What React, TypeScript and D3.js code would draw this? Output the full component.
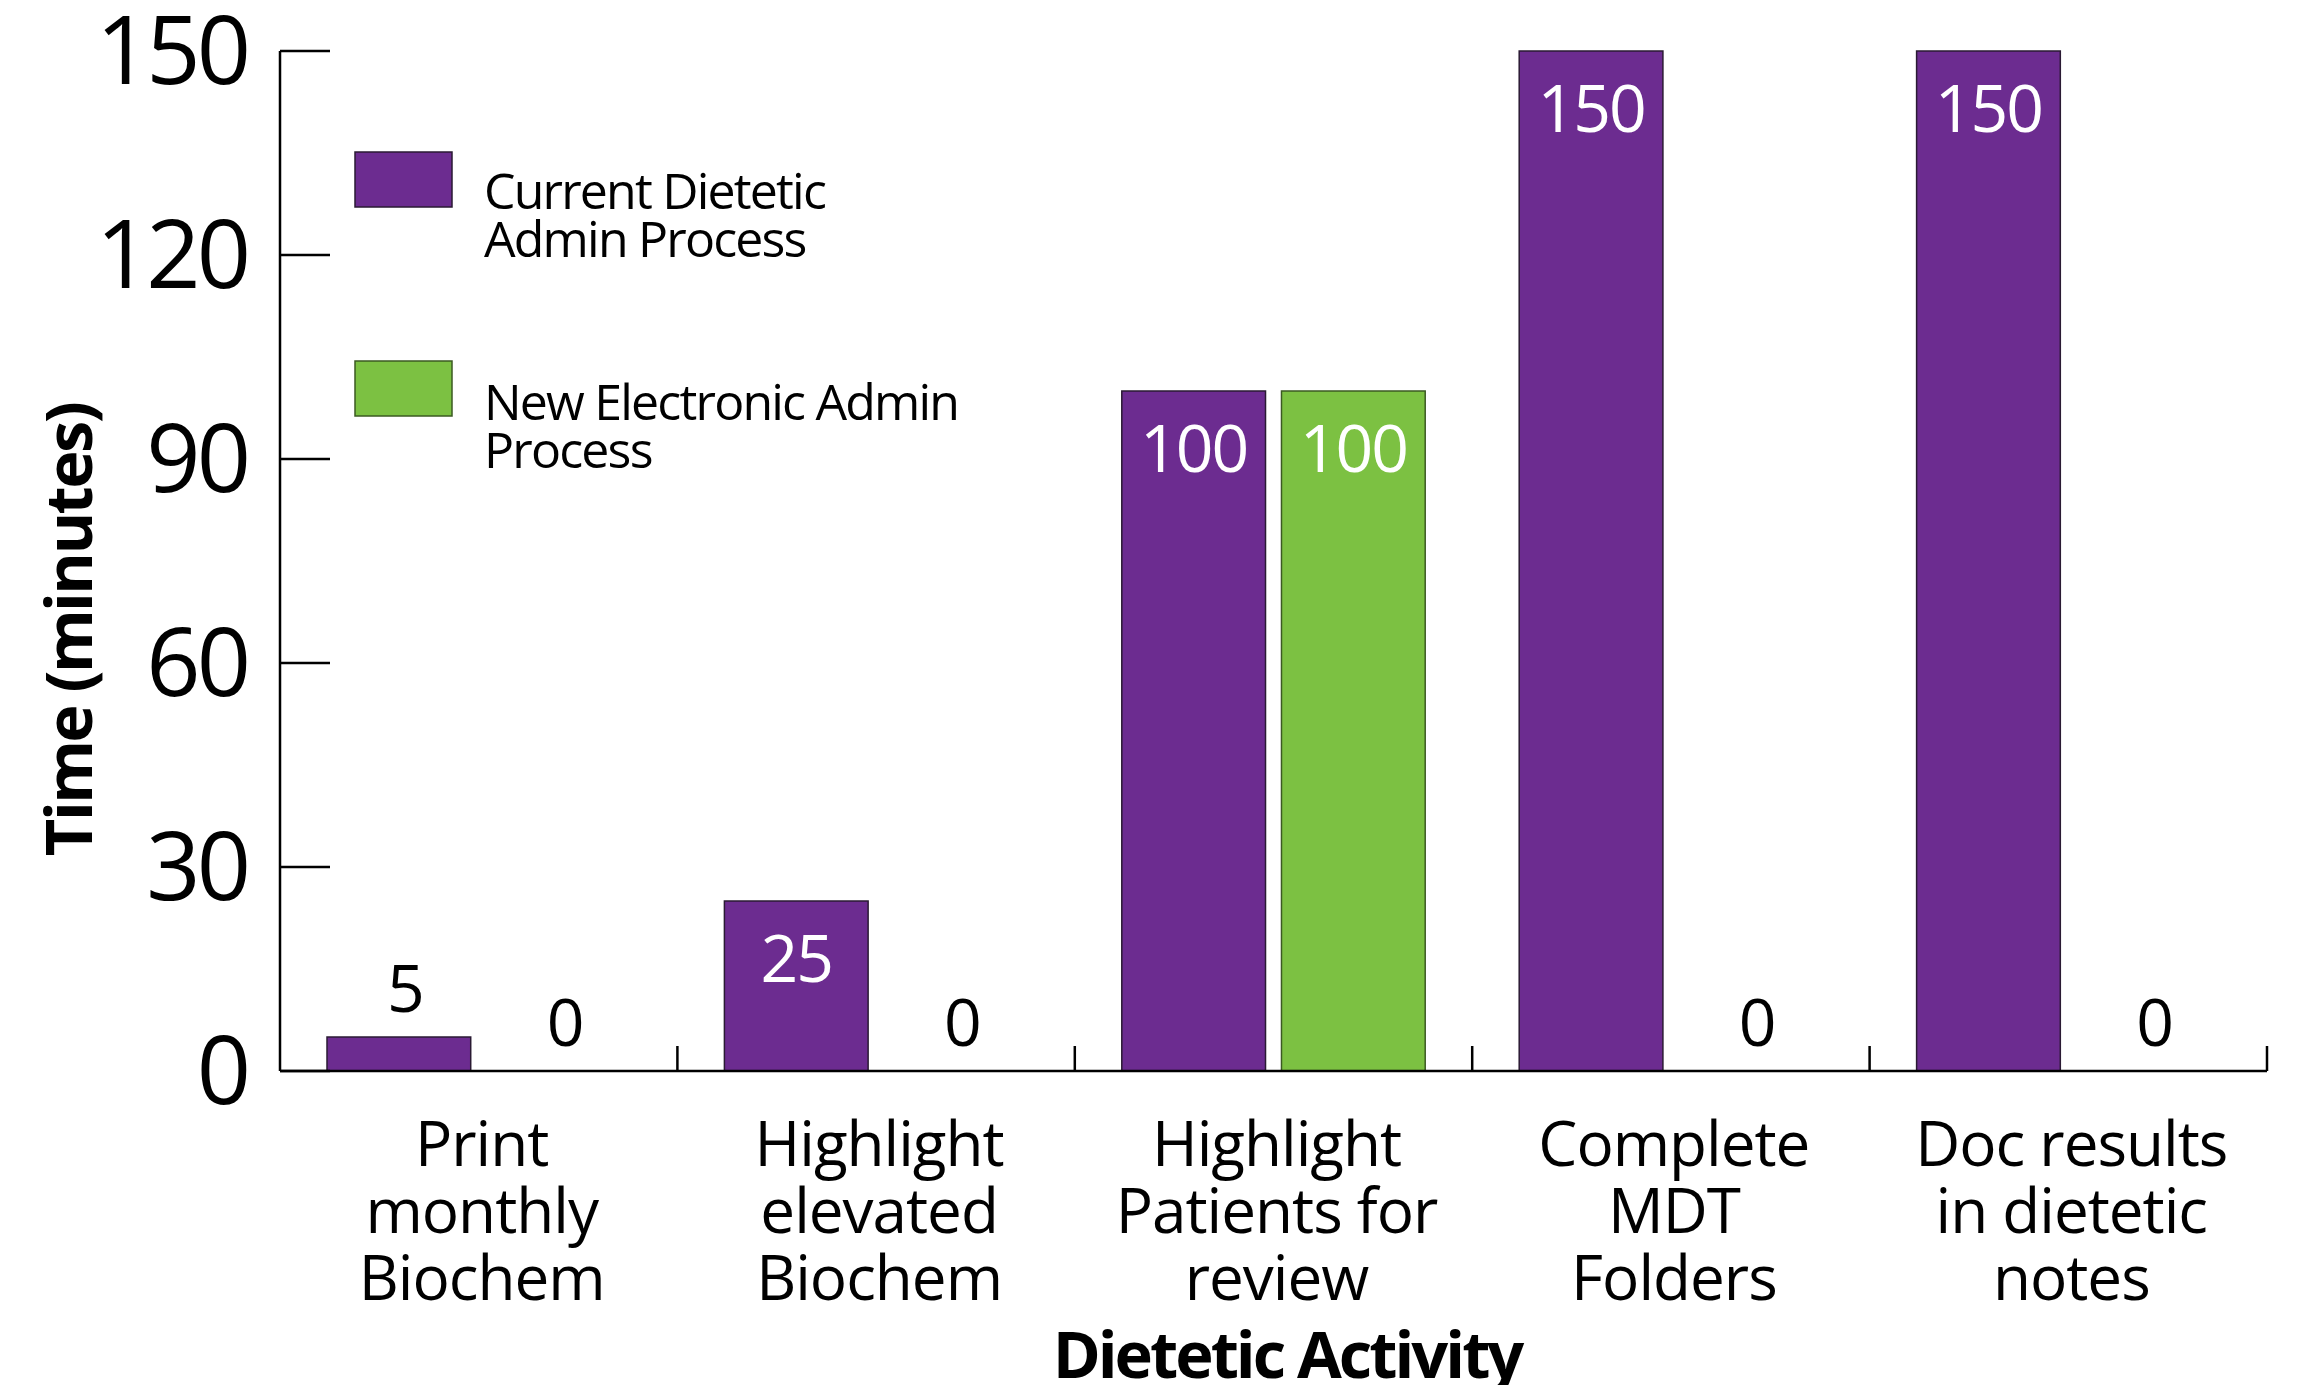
import React from "react";
import * as d3 from "d3";

const categoryLines: string[][] = [
  ["Print", "monthly", "Biochem"],
  ["Highlight", "elevated", "Biochem"],
  ["Highlight", "Patients for", "review"],
  ["Complete", "MDT", "Folders"],
  ["Doc results", "in dietetic", "notes"],
];
const categories = categoryLines.map((l) => l.join(" "));
const seriesNames = ["Current Dietetic Admin Process", "New Electronic Admin Process"];
const currentValues = [5, 25, 100, 150, 150];
const electronicValues = [0, 0, 100, 0, 0];
const yTicks = [0, 30, 60, 90, 120, 150];
const legendLines = [
  ["Current Dietetic", "Admin Process"],
  ["New Electronic Admin", "Process"],
];
const colors = ["#6c2c90", "#7cc142"];
const strokes = ["#2a1a33", "#3b5a22"];

const W = 2323;
const H = 1385;
const FONT = "'Open Sans', 'Noto Sans', sans-serif";

export default function App() {
  const left = 280;
  const right = 2267;
  const y = d3.scaleLinear().domain([0, 150]).range([1071, 51]);
  const x0 = d3.scaleBand<string>().domain(categories).range([left, right]);
  const bw = x0.bandwidth();
  const x1 = d3
    .scaleBand<string>()
    .domain(seriesNames)
    .range([47, bw - 47])
    .paddingInner(0.1);

  const rows = categories.map((c, i) => ({
    cat: c,
    lines: categoryLines[i],
    vals: [currentValues[i], electronicValues[i]],
  }));

  return (
    <svg
      width={W}
      height={H}
      style={{ position: "absolute", left: 0, top: 0, display: "block", background: "#fff" }}
      fontFamily={FONT}
    >
      {/* bars */}
      {rows.map((r) => (
        <g key={r.cat} transform={`translate(${x0(r.cat)},0)`}>
          {r.vals.map((v, si) => {
            const bx = x1(seriesNames[si])!;
            const w = x1.bandwidth();
            const top = y(v);
            const inside = v >= 20;
            return (
              <g key={si}>
                {v > 0 && (
                  <rect
                    x={bx}
                    y={top}
                    width={w}
                    height={y(0) - top}
                    fill={colors[si]}
                    stroke={strokes[si]}
                    strokeWidth={1.5}
                  />
                )}
                <text
                  x={bx + w / 2 + (inside ? 0 : 6)}
                  y={inside ? top + 81 : top - 25}
                  textAnchor="middle"
                  fontSize={66}
                  letterSpacing={-2}
                  fill={inside ? "#fff" : "#000"}
                >
                  {v}
                </text>
              </g>
            );
          })}
        </g>
      ))}

      {/* y axis */}
      <line x1={left} x2={left} y1={y(150)} y2={y(0)} stroke="#000" strokeWidth={2.5} />
      {yTicks.map((t) => (
        <g key={t}>
          <line x1={left} x2={left + 50} y1={y(t)} y2={y(t)} stroke="#000" strokeWidth={2.5} />
          <text
            x={247}
            y={y(t)}
            dy="0.35em"
            textAnchor="end"
            fontSize={95}
            letterSpacing={-4}
            fill="#000"
          >
            {t}
          </text>
        </g>
      ))}

      {/* x axis */}
      <line x1={left} x2={right} y1={y(0)} y2={y(0)} stroke="#000" strokeWidth={2.5} />
      {categories.map((c) => (
        <line
          key={c}
          x1={x0(c)! + bw}
          x2={x0(c)! + bw}
          y1={y(0)}
          y2={y(0) - 25}
          stroke="#000"
          strokeWidth={2.5}
        />
      ))}
      {rows.map((r) => (
        <text key={r.cat} textAnchor="middle" fontSize={62} letterSpacing={-1} fill="#000">
          {r.lines.map((ln, li) => (
            <tspan key={li} x={x0(r.cat)! + bw / 2 + 3} y={1166 + li * 67}>
              {ln}
            </tspan>
          ))}
        </text>
      ))}

      {/* axis titles */}
      <text
        x={1287}
        y={1378}
        textAnchor="middle"
        fontSize={65}
        fontWeight="bold"
        letterSpacing={-3}
        fill="#000"
      >
        Dietetic Activity
      </text>
      <text
        transform={`translate(92,630) rotate(-90)`}
        textAnchor="middle"
        fontSize={65}
        fontWeight="bold"
        letterSpacing={-2.6}
        fill="#000"
      >
        Time (minutes)
      </text>

      {/* legend */}
      {seriesNames.map((s, i) => {
        const top = i === 0 ? 152 : 361;
        return (
          <g key={s}>
            <rect x={355} y={top} width={97} height={55} fill={colors[i]} stroke={strokes[i]} strokeWidth={1.5} />
            <text fontSize={50} letterSpacing={-1.8} fill="#000">
              {legendLines[i].map((ln, li) => (
                <tspan key={li} x={484} y={(i === 0 ? 209 : 420) + li * 48}>
                  {ln}
                </tspan>
              ))}
            </text>
          </g>
        );
      })}
    </svg>
  );
}
